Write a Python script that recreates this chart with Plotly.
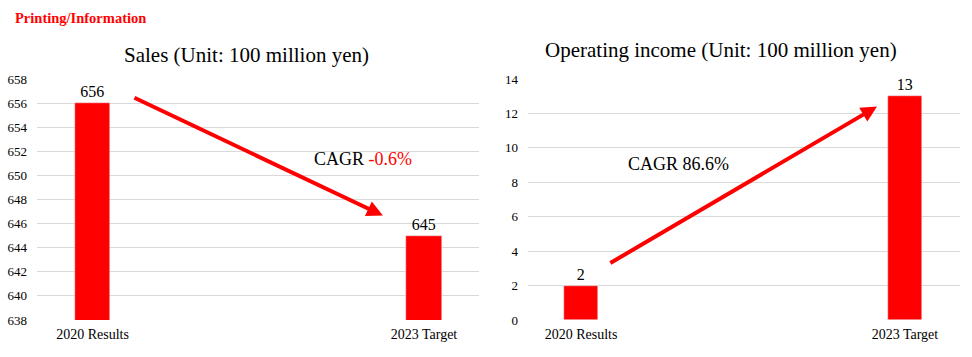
import plotly.graph_objects as go

categories = ["2020 Results", "2023 Target"]
sales = [656, 645]
income = [2, 13]
sales_ticks = list(range(638, 659, 2))
income_ticks = list(range(0, 15, 2))

FONT = "Liberation Serif, Times New Roman, serif"
RED = "#ff0000"

fig = go.Figure()
fig.add_trace(go.Bar(x=categories, y=sales, xaxis="x", yaxis="y",
                     marker_color=RED, width=0.106,
                     text=[str(v) for v in sales], textposition="outside",
                     textfont=dict(family=FONT, size=16, color="black"),
                     cliponaxis=False, showlegend=False, hoverinfo="skip"))
fig.add_trace(go.Bar(x=categories, y=income, xaxis="x2", yaxis="y2",
                     marker_color=RED, width=0.105,
                     text=[str(v) for v in income], textposition="outside",
                     textfont=dict(family=FONT, size=16, color="black"),
                     cliponaxis=False, showlegend=False, hoverinfo="skip"))

ydom = [37 / 357, 278 / 357]
axis_common = dict(showline=False, zeroline=False, ticks="", automargin=False,
                   tickfont=dict(family=FONT, size=13, color="black"))
xtick = dict(family=FONT, size=14, color="black")
fig.update_layout(
    width=972, height=357,
    margin=dict(l=0, r=0, t=0, b=0, pad=0),
    paper_bgcolor="white", plot_bgcolor="white",
    font=dict(family=FONT),
    xaxis=dict(domain=[37 / 972, 479 / 972], type="category",
               range=[-0.1674, 1.166], showgrid=False, ticklabelstandoff=4,
               **{**axis_common, "tickfont": xtick}),
    yaxis=dict(domain=ydom, range=[638, 658], tickvals=sales_ticks,
               showgrid=True, gridcolor="#d9d9d9", gridwidth=1,
               ticklabelstandoff=9, **axis_common),
    xaxis2=dict(domain=[528 / 972, 960 / 972], type="category", anchor="y2",
                range=[-0.1636, 1.17], showgrid=False, ticklabelstandoff=4,
                **{**axis_common, "tickfont": xtick}),
    yaxis2=dict(domain=ydom, range=[0, 14], tickvals=income_ticks, anchor="x2",
                showgrid=True, gridcolor="#d9d9d9", gridwidth=1,
                ticklabelstandoff=9, **axis_common),
    bargap=0,
)

annotations = [
    dict(text="<b>Printing/Information</b>", xref="paper", yref="paper",
         x=13 / 972, y=1 - 18 / 357, xanchor="left", yanchor="middle",
         showarrow=False, font=dict(family=FONT, size=14.5, color=RED)),
    dict(text="Sales (Unit: 100 million yen)", xref="paper", yref="paper",
         x=247 / 972, y=1 - 55 / 357, xanchor="center", yanchor="middle",
         showarrow=False, font=dict(family=FONT, size=21, color="black")),
    dict(text="Operating income (Unit: 100 million yen)", xref="paper", yref="paper",
         x=721 / 972, y=1 - 50 / 357, xanchor="center", yanchor="middle",
         showarrow=False, font=dict(family=FONT, size=21, color="black")),
    dict(text="CAGR <span style='color:#ff0000'>-0.6%</span>", xref="paper", yref="paper",
         x=363 / 972, y=1 - 159 / 357, xanchor="center", yanchor="middle",
         showarrow=False, font=dict(family=FONT, size=18, color="black")),
    dict(text="CAGR 86.6%", xref="paper", yref="paper",
         x=678 / 972, y=1 - 164 / 357, xanchor="center", yanchor="middle",
         showarrow=False, font=dict(family=FONT, size=18, color="black")),
    # arrows
    dict(x=0.876, y=646.67, ax=0.122, ay=656.5, xref="x", yref="y",
         axref="x", ayref="y", text="", showarrow=True, arrowhead=2,
         arrowsize=0.8, arrowwidth=4, arrowcolor=RED),
    dict(x=0.914, y=12.4, ax=0.086, ay=3.26, xref="x2", yref="y2",
         axref="x2", ayref="y2", text="", showarrow=True, arrowhead=2,
         arrowsize=0.8, arrowwidth=4, arrowcolor=RED),
]
fig.update_layout(annotations=annotations)

fig.write_html("out.html", config={"displayModeBar": False},
               post_script="document.body.style.margin='0';document.body.style.padding='0';")
